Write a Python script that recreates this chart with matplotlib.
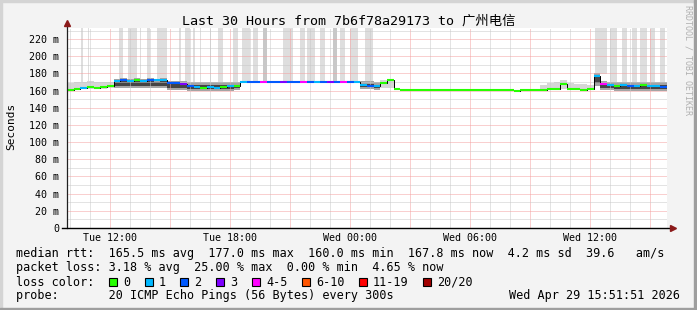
import datetime as dt
import numpy as np
import matplotlib
matplotlib.use('Agg')
import matplotlib.pyplot as plt
import matplotlib.dates as mdates
from matplotlib.patches import Rectangle
from matplotlib.ticker import MultipleLocator, FuncFormatter

plt.rcParams['font.family'] = ['DejaVu Sans Mono', 'Noto Sans CJK SC']

# --- data (20 minute samples, 30 hours) ---
start = dt.datetime(2026, 4, 28, 9, 51, 51)
end = start + dt.timedelta(hours=30)
step_min = 20

median = [
    161.0, 162.5, 163.0, 164.0, 163.5, 164.0, 166.0,
    171.0, 172.0, 171.5, 172.5, 171.0, 172.0, 172.5, 173.0,
    169.0, 168.5, 168.0, 165.0, 164.0, 163.5, 164.5, 163.0, 164.0, 165.0, 166.0,
    170.0, 170.0, 170.0, 170.0, 170.0, 170.0, 170.0, 170.0, 170.0,
    170.0, 170.0, 170.0, 170.0, 170.0, 170.0, 170.0, 170.0, 170.0,
    167.0, 166.0, 165.0, 169.0, 172.0, 162.0,
    161.0, 161.0, 161.0, 161.0, 161.0, 161.0, 161.0, 161.0, 161.0, 161.0, 161.0,
    160.3, 160.3, 160.2, 160.2, 160.5, 160.2, 160.0, 160.5, 161.0, 160.5, 161.0, 161.5, 161.5,
    168.0, 162.0, 162.0, 160.5, 161.5,
    177.0, 168.0,
    166.5, 165.5, 167.0, 166.0, 165.0, 166.5, 165.5, 166.0, 164.5,
]

# loss class per sample: 0 -> "0", 1 -> "1", 2 -> "2", 3 -> "3", 4 -> "4-5" ...
loss = [
    0, 0, 1, 0, 0, 0, 0,
    1, 2, 1, 0, 1, 2, 1, 1,
    2, 2, 3, 2, 1, 0, 1, 1, 0, 1, 0,
    1, 2, 2, 4, 2, 2, 3, 2, 2,
    4, 2, 1, 2, 3, 2, 4, 2, 1,
    1, 2, 1, 0, 0, 0,
    0, 0, 0, 0, 0, 0, 0, 0, 0, 0, 0,
    0, 0, 0, 0, 0, 0, 0, 0, 0, 0, 0, 0, 0,
    0, 0, 0, 0, 0,
    1, 4,
    1, 0, 1, 2, 1, 0, 1, 1, 2,
]

nan = np.nan
smoke_lo = [
    162, 162, 162, 162, 162, 162, 163,
    163, 163, 163, 163, 163, 163, 163, 163,
    161, 161, 161, 160, 160, 160, 160, 160, 160, 160, 161,
    nan, nan, nan, nan, nan, nan, nan, nan, nan,
    nan, nan, nan, nan, nan, nan, nan, nan, nan,
    162, 162, 161, 163, 163, nan,
    nan, nan, nan, nan, nan, nan, nan, nan, nan, nan, nan,
    nan, nan, nan, nan, nan, nan, nan, nan, nan, nan, 161, 161, 161,
    162, 162, 161, 161, 161,
    166, 161,
    161, 160, 160, 160, 160, 160, 160, 160, 160,
]
smoke_hi = [
    169, 170, 170, 171, 170, 170, 170,
    174, 175, 174, 175, 174, 175, 174, 175,
    171, 171, 171, 170, 170, 170, 170, 170, 170, 170, 170,
    nan, nan, nan, nan, nan, nan, nan, nan, nan,
    nan, nan, nan, nan, nan, nan, nan, nan, nan,
    171, 171, 170, 173, 173, nan,
    nan, nan, nan, nan, nan, nan, nan, nan, nan, nan, nan,
    nan, nan, nan, nan, nan, nan, nan, nan, nan, nan, 167, 169, 170,
    172, 169, 168, 168, 167,
    181, 171,
    170, 170, 170, 170, 170, 170, 170, 170, 170,
]
# 1 = sparse light smoke, 2 = dense smoke
smoke_kind = [
    1, 1, 1, 1, 1, 1, 1,
    2, 2, 2, 2, 2, 2, 2, 2,
    2, 2, 2, 2, 2, 2, 2, 2, 2, 2, 2,
    0, 0, 0, 0, 0, 0, 0, 0, 0,
    0, 0, 0, 0, 0, 0, 0, 0, 0,
    2, 2, 2, 1, 1, 0,
    0, 0, 0, 0, 0, 0, 0, 0, 0, 0, 0,
    0, 0, 0, 0, 0, 0, 0, 0, 0, 0, 1, 1, 1,
    1, 1, 1, 1, 1,
    2, 2,
    2, 2, 2, 2, 2, 2, 2, 2, 2,
]

# tall outliers (hours after start) running off the top of the graph
spike_start = [0.70, 1.05, 2.60, 3.05, 3.65, 4.00, 4.50, 5.60, 5.90, 6.30, 6.65,
               7.15, 7.55, 8.30, 8.75, 9.30, 9.80, 10.80, 11.65, 12.00, 12.65,
               13.30, 13.65, 14.15, 14.90, 26.40, 27.15, 27.75, 28.25, 28.65,
               29.15, 29.65]
spike_end = [0.78, 1.12, 2.80, 3.50, 3.72, 4.15, 5.00, 5.68, 6.15, 6.38, 6.72,
             7.22, 7.80, 8.55, 9.15, 9.55, 10.00, 11.30, 11.90, 12.40, 12.90,
             13.50, 13.90, 14.55, 15.30, 27.00, 27.50, 28.00, 28.50, 29.00,
             29.40, 29.90]
spike_dark = [0, 0, 0, 0, 0, 0, 0, 0, 0, 0, 0,
              0, 0, 0, 0, 0, 1, 0, 0, 0, 0,
              1, 0, 0, 0, 0, 0, 0, 0, 0,
              0, 0]

loss_labels = ['0', '1', '2', '3', '4-5', '6-10', '11-19', '20/20']
loss_colors = ['#26ff00', '#00b8ff', '#0059ff', '#7e00ff', '#ff00ff',
               '#ff5500', '#ff0000', '#a10000']

title = 'Last 30 Hours from 7b6f78a29173 to 广州电信'
row_rtt = 'median rtt:  165.5 ms avg  177.0 ms max  160.0 ms min  167.8 ms now  4.2 ms sd  39.6   am/s'
row_loss = 'packet loss: 3.18 % avg  25.00 % max  0.00 % min  4.65 % now'
row_probe = 'probe:       20 ICMP Echo Pings (56 Bytes) every 300s'
stamp = 'Wed Apr 29 15:51:51 2026'

# --- figure ---
W, H = 697, 310
fig = plt.figure(figsize=(W / 100, H / 100), dpi=100, facecolor='#f3f3f3')

x0, x1, ytop, ybot = 67, 667, 28, 228
ax = fig.add_axes([x0 / W, 1 - ybot / H, (x1 - x0) / W, (ybot - ytop) / H])
ax.set_facecolor('white')

n = len(median)
t = mdates.date2num([start + dt.timedelta(minutes=step_min * i) for i in range(n + 1)])
t_left, t_right = t[:-1], t[1:]
med = np.array(median)
lo = np.array(smoke_lo, dtype=float)
hi = np.array(smoke_hi, dtype=float)
kind = np.array(smoke_kind)
day = 1 / 24

# tall outlier bars
for s, e, d in zip(spike_start, spike_end, spike_dark):
    k = min(int(s * 60 / step_min), n - 1)
    base = med[k] if np.isnan(hi[k]) else max(med[k], hi[k] - 2)
    ax.bar(t[0] + s * day, 300 - base, width=(e - s) * day, bottom=base,
           align='edge', color='#c8c8c8' if d else '#dedede', linewidth=0, zorder=1)

# smoke
for i in range(n):
    if kind[i] == 0:
        continue
    if kind[i] == 1:
        ax.fill_between([t_left[i], t_right[i]], lo[i], hi[i], color='#d6d6d6',
                        linewidth=0, zorder=1.2)
    else:
        span = hi[i] - lo[i]
        ax.fill_between([t_left[i], t_right[i]], lo[i], hi[i], color='#a4a4a4',
                        linewidth=0, zorder=1.2)
        ax.fill_between([t_left[i], t_right[i]], lo[i] + 0.2 * span, hi[i] - 0.35 * span,
                        color='#444444', linewidth=0, zorder=1.3)

# median line
ax.step(np.append(t_left, t_right[-1]), np.append(med, med[-1]), where='post',
        color='black', linewidth=0.7, zorder=3)
ax.hlines(med, t_left, t_right, colors=[loss_colors[c] for c in loss],
          linewidth=1.5, zorder=3.2)

ax.set_xlim(mdates.date2num(start), mdates.date2num(end))
ax.set_ylim(0, 233)

# grid
dots = (0, (1, 1))
ax.xaxis.set_major_locator(mdates.HourLocator(byhour=range(0, 24, 3)))
ax.xaxis.set_minor_locator(mdates.HourLocator())
ax.yaxis.set_major_locator(MultipleLocator(20))
ax.yaxis.set_minor_locator(MultipleLocator(10))


def xfmt(v, pos):
    d = mdates.num2date(v)
    return d.strftime('%a %H:%M') if d.hour % 6 == 0 else ''


ax.xaxis.set_major_formatter(FuncFormatter(xfmt))
ax.yaxis.set_major_formatter(FuncFormatter(lambda v, p: '0' if v == 0 else '%d m' % v))
ax.grid(which='major', color='#f4a0a0', linestyle=dots, linewidth=0.72, zorder=2.5)
ax.grid(which='minor', color='#c8c8c8', linestyle=dots, linewidth=0.72, zorder=2.5)
ax.set_axisbelow(False)
ax.tick_params(which='both', length=0)
ax.tick_params(axis='y', labelsize=7.2, pad=5.5)
ax.tick_params(axis='x', labelsize=7.2, pad=3.5)

for sp in ax.spines.values():
    sp.set_visible(False)
ax.plot([0, 0], [0, 1.02], color='#202020', linewidth=0.9, transform=ax.transAxes,
        clip_on=False, zorder=5)
ax.plot([-0.008, 1.008], [0, 0], color='black', linewidth=1.0, transform=ax.transAxes,
        clip_on=False, zorder=5)
ax.plot([0], [1.025], marker='^', markersize=5, color='#8b1a1a', transform=ax.transAxes,
        clip_on=False, zorder=6)
ax.plot([1.01], [0], marker='>', markersize=5, color='#8b1a1a', transform=ax.transAxes,
        clip_on=False, zorder=6)

# texts
fig.text(0.5, 1 - 21 / H, title, ha='center', va='center', fontsize=9.6)
fig.text(11 / W, 1 - 126 / H, 'Seconds', rotation=90, ha='center', va='center', fontsize=8)
fig.text(688 / W, 1 - 60 / H, 'RRDTOOL / TOBI OETIKER', rotation=270, ha='center',
         va='center', fontsize=6, color='#b0b0b0')

lx, cw = 16, 7.14
fig.text(lx / W, 1 - 254 / H, row_rtt, va='center', fontsize=8.5)
fig.text(lx / W, 1 - 268 / H, row_loss, va='center', fontsize=8.5)
fig.text(lx / W, 1 - 282 / H, 'loss color:', va='center', fontsize=8.5)
fig.text(lx / W, 1 - 296 / H, row_probe, va='center', fontsize=8.5)
fig.text(680 / W, 1 - 296 / H, stamp, ha='right', va='center', fontsize=8.5)

col = 13
for lab, c in zip(loss_labels, loss_colors):
    sx = lx + col * cw
    fig.add_artist(Rectangle((sx / W, 1 - 286 / H), 8 / W, 8 / H, facecolor=c,
                             edgecolor='black', linewidth=0.8, transform=fig.transFigure))
    fig.text((sx + 2 * cw) / W, 1 - 282 / H, lab, va='center', fontsize=8.5)
    col += 2 + len(lab) + 2

# 3d border
fig.add_artist(Rectangle((0, 1 - 2 / H), 1, 2 / H, color='#d4d4d4', transform=fig.transFigure))
fig.add_artist(Rectangle((0, 0), 2 / W, 1, color='#d4d4d4', transform=fig.transFigure))
fig.add_artist(Rectangle((0, 0), 1, 2 / H, color='#9e9e9e', transform=fig.transFigure))
fig.add_artist(Rectangle((1 - 3 / W, 0), 3 / W, 1, color='#9e9e9e', transform=fig.transFigure))

fig.savefig('out.png', dpi=100, facecolor=fig.get_facecolor())
